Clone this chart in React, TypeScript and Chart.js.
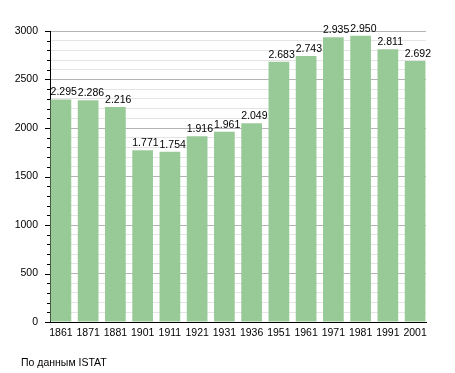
import React, { useEffect, useRef } from "react";
import { Chart, registerables } from "chart.js";

Chart.register(...registerables);

const categories = ["1861", "1871", "1881", "1901", "1911", "1921", "1931", "1936", "1951", "1961", "1971", "1981", "1991", "2001"];
const population = [2295, 2286, 2216, 1771, 1754, 1916, 1961, 2049, 2683, 2743, 2935, 2950, 2811, 2692];
const Y_MAX = 3000;
const MAJOR_STEP = 500;
const MINOR_STEP = 100;
const footerText = "По данным ISTAT";

const FONT = "'Liberation Sans', Arial, sans-serif";

function fmt(v: number): string {
  const s = String(v);
  return s.length > 3 ? s.slice(0, s.length - 3) + "." + s.slice(-3) : s;
}

const overlayPlugin = {
  id: "overlay",
  afterDraw(chart: any) {
    const ctx = chart.ctx;
    const y = chart.scales.y;
    const left = chart.chartArea.left;
    ctx.save();
    ctx.strokeStyle = "#000";
    ctx.lineWidth = 1;
    for (let v = 0; v <= Y_MAX; v += MINOR_STEP) {
      const py = Math.round(y.getPixelForValue(v)) + 0.5;
      const len = v % MAJOR_STEP === 0 ? 5 : 3;
      ctx.beginPath();
      ctx.moveTo(left - len, py);
      ctx.lineTo(left, py);
      ctx.stroke();
    }
    ctx.restore();
  },
  afterDatasetsDraw(chart: any) {
    const ctx = chart.ctx;
    const meta = chart.getDatasetMeta(0);
    ctx.save();
    ctx.font = `10.5px ${FONT}`;
    ctx.fillStyle = "#000";
    ctx.textAlign = "left";
    ctx.textBaseline = "alphabetic";
    meta.data.forEach((bar: any, i: number) => {
      ctx.fillText(fmt(population[i]), bar.x - bar.width / 2, bar.y - 4);
    });
    ctx.restore();
  },
};

export default function App() {
  const ref = useRef<HTMLCanvasElement | null>(null);
  useEffect(() => {
    if (!ref.current) return;
    const chart = new Chart(ref.current, {
      type: "bar",
      data: {
        datasets: [
          {
            data: population.map((v, i) => ({ x: i, y: v })),
            backgroundColor: "#98ca98",
            borderWidth: 0,
            barPercentage: 0.76,
            categoryPercentage: 1,
          },
        ],
      },
      options: {
        responsive: false,
        animation: false,
        layout: { padding: { left: 0, top: 31, right: 29, bottom: 31 } },
        plugins: { legend: { display: false }, tooltip: { enabled: false }, title: { display: false } },
        scales: {
          x: {
            type: "linear",
            offset: false,
            min: -0.4,
            max: 13.4,
            grid: { display: false, drawTicks: false, offset: false },
            border: { display: true, color: "#000", width: 1 },
            ticks: {
              stepSize: 1,
              includeBounds: false,
              autoSkip: false,
              maxRotation: 0,
              padding: 5,
              color: "#000",
              font: { family: FONT, size: 10.5 },
              callback: (v: any) => (Number.isInteger(v) && categories[v] ? categories[v] : ""),
            },
            afterFit: (s: any) => {
              s.height = 20;
            },
          },
          y: {
            min: 0,
            max: Y_MAX,
            grid: {
              drawTicks: false,
              color: (c: any) => (c.tick && c.tick.value % MAJOR_STEP === 0 ? "#b4b4b4" : "#e4e4e4"),
            },
            border: { display: true, color: "#000", width: 1 },
            ticks: {
              stepSize: MINOR_STEP,
              autoSkip: false,
              padding: 12,
              color: "#000",
              font: { family: FONT, size: 10.5 },
              callback: (v: any) => (v % MAJOR_STEP === 0 ? String(v) : ""),
            },
            afterFit: (s: any) => {
              s.width = 50;
            },
          },
        },
      },
      plugins: [overlayPlugin],
    } as any);
    return () => chart.destroy();
  }, []);
  return (
    <div style={{ position: "fixed", left: 0, top: 0, width: 455, height: 373, background: "#fff" }}>
      <canvas ref={ref} width={455} height={373} style={{ display: "block" }} />
      <div
        style={{
          position: "absolute",
          left: 21,
          top: 356,
          fontFamily: FONT,
          fontSize: 10.5,
          lineHeight: "13px",
          color: "#000",
          whiteSpace: "pre",
        }}
      >
        {footerText}
      </div>
    </div>
  );
}
